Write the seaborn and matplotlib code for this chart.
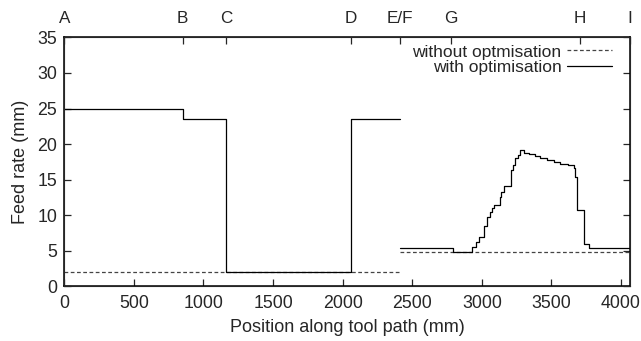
import numpy as np
import pandas as pd
import matplotlib
matplotlib.use("Agg")
import matplotlib.pyplot as plt
import seaborn as sns

# Data (position in mm, feed rate)

# with optimisation, first part (A .. E/F), stepped
opt1_x = [0, 850, 1165, 2060, 2410]
opt1_y = [25, 23.5, 2, 23.5, 23.5]

# with optimisation, second part (E/F .. I), stepped
opt2_x = [2410, 2790, 2932, 2955, 2976, 3012, 3036, 3060, 3072, 3089, 3127,
          3139, 3156, 3209, 3223, 3240, 3257, 3276, 3300, 3340, 3380, 3420,
          3470, 3520, 3564, 3620, 3660, 3672, 3684, 3732, 3770, 4065]
opt2_y = [5.4, 4.8, 5.5, 6.2, 7.0, 8.5, 9.7, 10.5, 11.0, 11.4, 12.6,
          13.2, 14.1, 16.4, 17.0, 18.0, 18.5, 19.1, 18.8, 18.6, 18.3, 18.1,
          17.8, 17.5, 17.2, 17.0, 16.7, 15.4, 10.8, 6.0, 5.4, 5.4]

# without optimisation
noopt1_x = [0, 2410]
noopt1_y = [2, 2]
noopt2_x = [2410, 4065]
noopt2_y = [4.8, 4.8]

# top axis markers
marker_pos = [0, 850, 1165, 2060, 2410, 2780, 3705, 4065]
marker_lab = ["A", "B", "C", "D", "E/F", "G", "H", "I"]

sns.set_style("ticks")
plt.rcParams["font.family"] = ["Liberation Sans", "DejaVu Sans"]

fig = plt.figure(figsize=(6.41, 3.41), dpi=100)
ax = fig.add_axes([0.1003, 0.1604, 0.983 - 0.1003, 0.8903 - 0.1604])

dash_color = "#444444"
sns.lineplot(x=noopt1_x, y=noopt1_y, ax=ax, color=dash_color, lw=0.9,
             linestyle=(0, (3, 2)), label="without optmisation")
sns.lineplot(x=noopt2_x, y=noopt2_y, ax=ax, color=dash_color, lw=0.9,
             linestyle=(0, (3, 2)))
sns.lineplot(x=opt1_x, y=opt1_y, ax=ax, color="black", lw=0.9,
             drawstyle="steps-post", label="with optimisation", sort=False)
sns.lineplot(x=opt2_x, y=opt2_y, ax=ax, color="black", lw=0.9,
             drawstyle="steps-post", sort=False)

ax.set_xlim(0, 4065)
ax.set_ylim(0, 35)
ax.set_xticks(range(0, 4001, 500))
ax.set_yticks(range(0, 36, 5))
ax.set_xlabel("Position along tool path (mm)", fontsize=13, labelpad=5)
ax.set_ylabel("Feed rate (mm)", fontsize=13, labelpad=6)
ax.tick_params(direction="in", length=5, width=0.9, right=True, labelsize=12.8)
ax.tick_params(axis="x", pad=6)
ax.tick_params(axis="y", pad=5)
for s in ax.spines.values():
    s.set_visible(True)
    s.set_linewidth(1.1)
    s.set_color("black")

top = ax.twiny()
top.set_xlim(ax.get_xlim())
top.set_xticks(marker_pos)
top.set_xticklabels(marker_lab)
top.tick_params(direction="in", length=5, width=0.9, labelsize=12.3, pad=8)

leg = ax.legend(loc="upper right", bbox_to_anchor=(0.968, 0.972), frameon=False,
                markerfirst=False, handlelength=2.6, handletextpad=0.3,
                labelspacing=0.0, borderaxespad=0, borderpad=0, fontsize=12.5)
for t in leg.get_texts():
    t.set_ha("right")

fig.savefig("out.png", dpi=100)
